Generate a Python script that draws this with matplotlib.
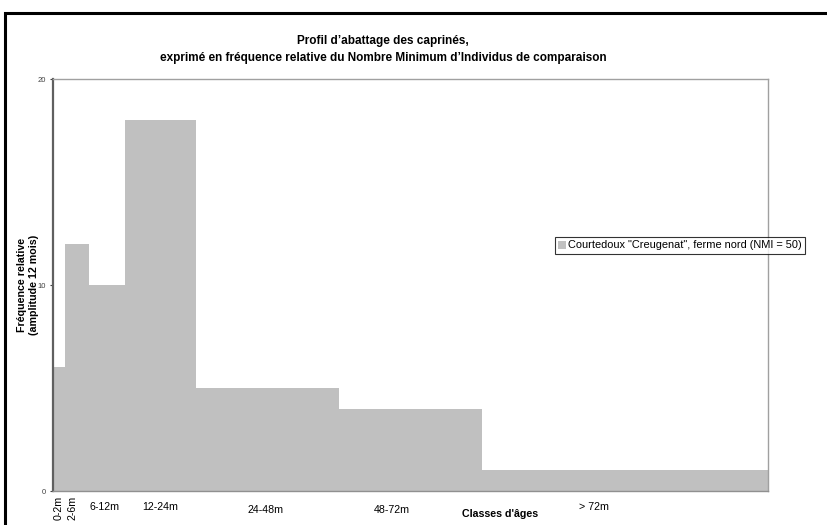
import numpy as np
import matplotlib.pyplot as plt
from matplotlib.patches import Rectangle

plt.rcParams['font.family'] = ['Liberation Sans', 'DejaVu Sans']

# classes d'ages (bornes en mois) et frequences relatives
edges = [0, 2, 6, 12, 24, 48, 72, 120]
freq = [6, 12, 10, 18, 5, 4, 1]
labels = ["0-2m", "2-6m", "6-12m", "12-24m", "24-48m", "48-72m", "> 72m"]
yticks = [0, 10, 20]

W, H = 827, 525
fig = plt.figure(figsize=(W / 100, H / 100), dpi=100)
ax = fig.add_axes([53 / W, 1 - 491 / H, 715 / W, 412 / H])

left = np.array(edges[:-1])
width = np.diff(edges)
bars = ax.bar(left, freq, width=width, align="edge", color="#c0c0c0",
              edgecolor="none", label='Courtedoux "Creugenat", ferme nord (NMI = 50)')

ax.set_xlim(0, 120)
ax.set_ylim(0, 20)
ax.set_yticks(yticks)
ax.tick_params(axis="y", labelsize=5.5, length=2, width=0.8, pad=3, colors="#404040")
ax.set_xticks([])

ax.spines["left"].set_color("#606060")
ax.spines["left"].set_linewidth(1.6)
for s in ["top", "right"]:
    ax.spines[s].set_color("#a0a0a0")
    ax.spines[s].set_linewidth(1.0)
ax.spines["bottom"].set_color("#909090")
ax.spines["bottom"].set_linewidth(1.0)

# etiquettes des classes (positions en pixels de la figure)
pos = [(59, 508, 90), (73, 508, 90), (105, 507, 0), (160, 507, 0),
       (265, 510, 0), (392, 510, 0), (594, 507, 0)]
for lab, (px, py, rot) in zip(labels, pos):
    fig.text(px / W, 1 - py / H, lab, fontsize=7.7, rotation=rot,
             ha="center", va="center")

fig.text(500 / W, 1 - 514 / H, "Classes d'âges", fontsize=7.7, fontweight="bold",
         ha="center", va="center")

fig.text(28 / W, 1 - 285 / H, "Fréquence relative\n(amplitude 12 mois)",
         fontsize=7.7, fontweight="bold", rotation=90, ha="center", va="center",
         linespacing=1.2)

fig.text(383 / W, 1 - 49.5 / H,
         "Profil d\u2019abattage des caprinés,\n"
         "exprimé en fréquence relative du Nombre Minimum d\u2019Individus de comparaison",
         fontsize=8.5, fontweight="bold", ha="center", va="center", linespacing=1.6)

leg = fig.legend(loc="center left", bbox_to_anchor=(555 / W, 1 - 245.5 / H),
                 fontsize=7.9, frameon=True, fancybox=False, borderpad=0.3,
                 handlelength=0.7, handleheight=0.7, handletextpad=0.2,
                 borderaxespad=0)
leg.get_frame().set_edgecolor("#000000")
leg.get_frame().set_linewidth(0.8)

# cadre noir exterieur
fig.patches.append(Rectangle((5 / W, -0.1), 1.2, 1 - 13 / H + 0.1,
                             transform=fig.transFigure, fill=False,
                             edgecolor="black", linewidth=2.2))

fig.savefig("out.png", dpi=100)
